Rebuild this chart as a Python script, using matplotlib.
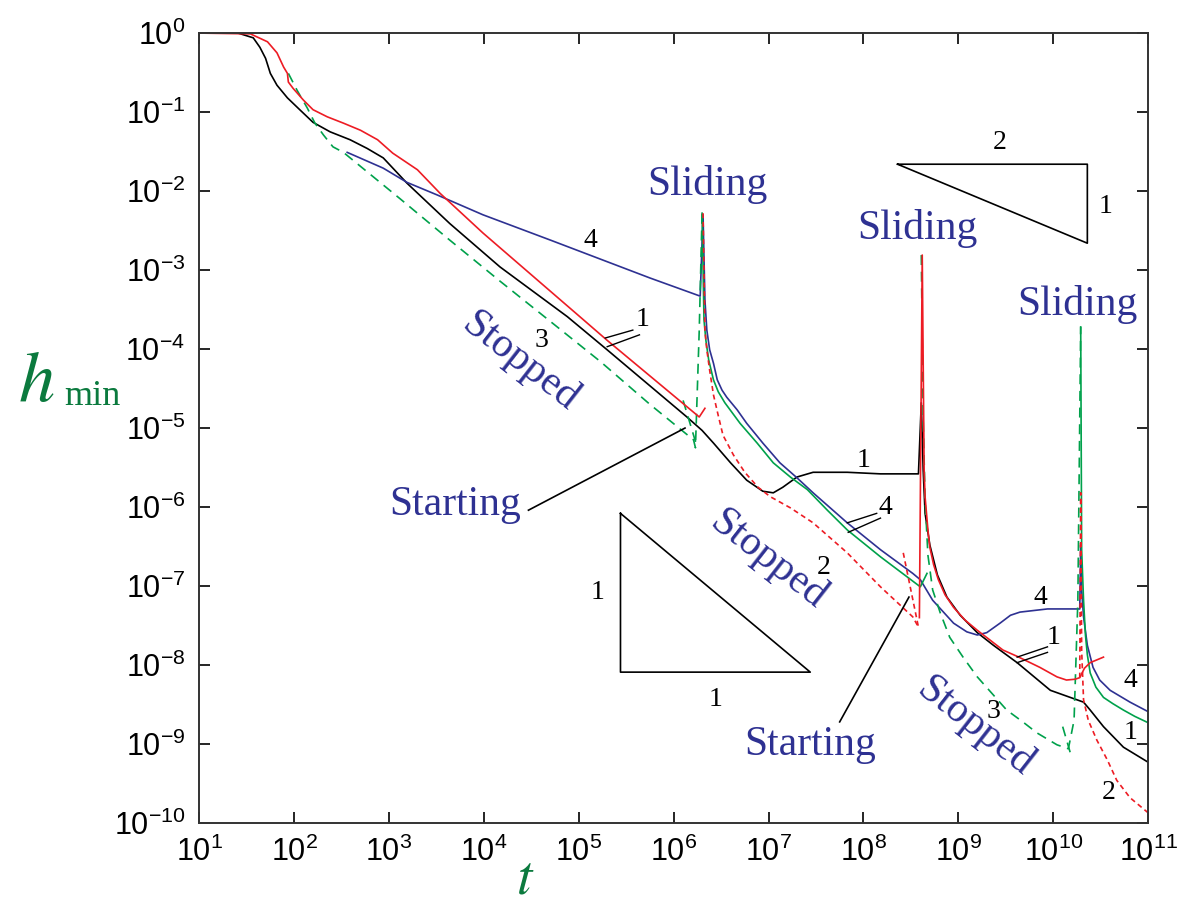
import numpy as np
import matplotlib.pyplot as plt

plt.rcParams['mathtext.fontset'] = 'stix'

# curve data, stored as log10(t), log10(h_min)
# curve 1 (black, solid throughout)
c1_lt = [1.0, 1.41, 1.57, 1.64, 1.70, 1.75, 1.82, 1.93, 2.06, 2.20, 2.38, 2.59, 2.77, 2.94,
         3.19, 3.64, 4.17, 4.88, 5.30, 6.14, 6.30, 6.42, 6.60, 6.77, 6.94, 7.05, 7.15, 7.30,
         7.47, 7.83, 8.18, 8.58, 8.61, 8.63, 8.65, 8.70, 8.78, 8.88, 9.02, 9.20, 9.37, 9.62,
         9.97, 10.25, 10.32, 10.39, 10.53, 10.74, 11.0]
c1_lh = [0.0, 0.0, -0.06, -0.18, -0.32, -0.51, -0.66, -0.82, -0.97, -1.13, -1.25, -1.35, -1.46, -1.58,
         -1.90, -2.41, -2.96, -3.59, -4.01, -4.86, -5.03, -5.19, -5.44, -5.66, -5.80, -5.82, -5.75, -5.62,
         -5.56, -5.56, -5.58, -5.58, -4.68, -5.53, -6.08, -6.48, -6.86, -7.14, -7.37, -7.59, -7.75, -7.97,
         -8.32, -8.44, -8.47, -8.57, -8.78, -9.04, -9.23]

# curve 4 (blue, solid)
c4_lt = [2.56, 2.94, 3.19, 3.51, 3.99, 4.70, 5.75, 6.28, 6.31, 6.33, 6.35, 6.38, 6.42, 6.46,
         6.51, 6.56, 6.67, 6.77, 6.94, 7.12, 7.30, 7.47, 7.65, 7.83, 8.18, 8.52, 8.60, 8.73,
         8.95, 9.09, 9.20, 9.30, 9.44, 9.55, 9.65, 9.94, 10.28, 10.29, 10.30, 10.32, 10.36,
         10.42, 10.49, 10.60, 10.81, 11.0]
c4_lh = [-1.51, -1.71, -1.89, -2.05, -2.30, -2.62, -3.10, -3.33, -2.30, -3.38, -3.76, -4.01, -4.18, -4.39,
         -4.52, -4.61, -4.77, -4.94, -5.19, -5.44, -5.63, -5.82, -6.01, -6.20, -6.54, -6.84, -6.92, -7.18,
         -7.47, -7.58, -7.62, -7.59, -7.47, -7.37, -7.33, -7.29, -7.29, -6.48, -7.05, -7.39, -7.75,
         -8.03, -8.19, -8.32, -8.47, -8.59]

# curve 2 (red): solid while sliding, dashed while stopped
c2a_lt = [1.0, 1.54, 1.72, 1.82, 1.89, 1.93, 1.94, 1.99, 2.10, 2.20, 2.35, 2.52, 2.70, 2.88,
          3.04, 3.30, 3.54, 3.99, 5.05, 5.30, 6.27, 6.33]
c2a_lh = [0.0, -0.01, -0.11, -0.25, -0.43, -0.51, -0.62, -0.70, -0.85, -0.97, -1.06, -1.14, -1.23, -1.35,
          -1.52, -1.73, -2.03, -2.53, -3.63, -3.89, -4.86, -4.75]
c2b_lt = [6.31, 6.33, 6.35, 6.38, 6.42, 6.47, 6.52, 6.63, 6.75, 6.89, 7.02, 7.23, 7.47, 7.83,
          8.18, 8.52, 8.58]
c2b_lh = [-2.28, -3.76, -4.01, -4.27, -4.58, -4.84, -5.09, -5.34, -5.56, -5.75, -5.87, -6.01, -6.20, -6.58,
          -7.01, -7.39, -7.52]
c2c_lt = [8.42, 8.58]
c2c_lh = [-6.58, -7.52]
c2d_lt = [8.59, 8.62, 8.64, 8.65, 8.68, 8.70, 8.74, 8.79, 8.86, 8.95, 9.07, 9.20, 9.33, 9.47,
          9.62, 9.86, 10.04, 10.14, 10.23, 10.28, 10.33, 10.39, 10.53]
c2d_lh = [-7.40, -2.81, -5.53, -5.87, -6.29, -6.51, -6.73, -6.92, -7.11, -7.27, -7.43, -7.56, -7.68, -7.81,
          -7.89, -8.03, -8.15, -8.19, -8.18, -8.16, -8.04, -7.97, -7.90]
c2e_lt = [10.28, 10.29, 10.30, 10.32, 10.37, 10.46, 10.57, 10.67, 10.81, 11.0]
c2e_lh = [-8.16, -5.82, -7.81, -8.44, -8.70, -8.95, -9.20, -9.46, -9.68, -9.87]

# curve 3 (green): dashed while stopped, solid while sliding
c3a_lt = [1.94, 2.03, 2.14, 2.22, 2.31, 2.41, 2.52, 3.12, 3.64, 4.17, 4.68, 5.23, 5.75, 6.21,
          6.23, 6.27, 6.30]
c3a_lh = [-0.51, -0.72, -0.95, -1.14, -1.29, -1.44, -1.51, -2.10, -2.62, -3.14, -3.63, -4.16, -4.70, -5.15,
          -5.25, -3.76, -2.28]
c3b_lt = [6.10, 6.25]
c3b_lh = [-4.65, -5.25]
c3c_lt = [6.30, 6.32, 6.34, 6.37, 6.42, 6.47, 6.54, 6.70, 6.88, 7.05, 7.23, 7.41, 7.62, 7.83,
          8.18, 8.60, 8.67]
c3c_lh = [-2.28, -3.63, -3.89, -4.14, -4.39, -4.54, -4.68, -4.94, -5.19, -5.44, -5.62, -5.78, -6.04, -6.29,
          -6.63, -7.01, -6.84]
c3d_lt = [8.61, 8.63, 8.65, 8.68, 8.73, 8.81, 8.91, 9.05, 9.20, 9.37, 9.51, 9.68, 9.83, 10.04,
          10.16, 10.22, 10.26, 10.29]
c3d_lh = [-2.81, -4.90, -5.91, -6.61, -7.05, -7.34, -7.65, -7.90, -8.15, -8.38, -8.57, -8.72, -8.86, -9.01,
          -9.06, -8.70, -7.18, -3.72]
c3e_lt = [10.10, 10.18]
c3e_lh = [-8.78, -9.11]
c3f_lt = [10.29, 10.30, 10.32, 10.34, 10.36, 10.39, 10.45, 10.53, 10.63, 10.74, 10.86, 11.0]
c3f_lh = [-3.72, -6.54, -7.18, -7.62, -7.87, -8.10, -8.28, -8.41, -8.49, -8.57, -8.65, -8.73]

# slope triangles (log10 coordinates)
tri1_lt = [5.44, 5.44, 7.44, 5.44]
tri1_lh = [-6.08, -8.09, -8.09, -6.08]
tri2_lt = [8.36, 10.36, 10.36, 8.36]
tri2_lh = [-1.66, -1.66, -2.66, -1.66]

ticks_x = [10.0 ** k for k in range(1, 12)]
ticks_y = [10.0 ** -k for k in range(0, 11)]

BLUE = '#2e3192'
RED = '#ed1c24'
GREEN = '#00a14b'
DKGREEN = '#0b7a3e'


def p(ax, lt, lh, **kw):
    ax.plot(10.0 ** np.array(lt), 10.0 ** np.array(lh), **kw)


fig = plt.figure(figsize=(11.82, 9.09), dpi=100)
ax = fig.add_axes([0.1685, 0.0946, 0.8028, 0.869])

lw = 1.2
gdash = (6, 4)
rdash = (3, 2.2)
p(ax, c1_lt, c1_lh, color='black', lw=lw)
p(ax, c4_lt, c4_lh, color=BLUE, lw=lw)
p(ax, c3a_lt, c3a_lh, color=GREEN, lw=lw, dashes=gdash)
p(ax, c3b_lt, c3b_lh, color=GREEN, lw=lw, dashes=gdash)
p(ax, c3c_lt, c3c_lh, color=GREEN, lw=lw)
p(ax, c3d_lt, c3d_lh, color=GREEN, lw=lw, dashes=gdash)
p(ax, c3e_lt, c3e_lh, color=GREEN, lw=lw, dashes=gdash)
p(ax, c3f_lt, c3f_lh, color=GREEN, lw=lw)
p(ax, c2a_lt, c2a_lh, color=RED, lw=lw)
p(ax, c2b_lt, c2b_lh, color=RED, lw=lw, dashes=rdash)
p(ax, c2c_lt, c2c_lh, color=RED, lw=lw, dashes=rdash)
p(ax, c2d_lt, c2d_lh, color=RED, lw=lw)
p(ax, c2e_lt, c2e_lh, color=RED, lw=lw, dashes=rdash)

p(ax, tri1_lt, tri1_lh, color='black', lw=1.2)
p(ax, tri2_lt, tri2_lh, color='black', lw=1.2)

# leader lines
p(ax, [4.47, 6.12], [-6.04, -5.00], color='black', lw=1.2)
p(ax, [7.75, 8.48], [-8.72, -7.14], color='black', lw=1.2)
for seg in [([5.28, 5.57], [-3.86, -3.76]), ([5.30, 5.64], [-3.97, -3.82]),
            ([7.83, 8.14], [-6.20, -6.08]), ([7.84, 8.18], [-6.32, -6.14]),
            ([9.62, 9.94], [-7.90, -7.77]), ([9.62, 9.94], [-7.97, -7.84])]:
    p(ax, seg[0], seg[1], color='black', lw=1.0)

serif = 'Liberation Serif'
big = dict(color=BLUE, fontsize=30, family=serif, ha='center', va='center')
for lt, lh in [(6.36, -1.92), (8.57, -2.47), (10.25, -3.43)]:
    ax.text(10 ** lt, 10 ** lh, 'Sliding', **big)
for lt, lh in [(4.38, -4.16), (6.99, -6.67), (9.18, -8.78)]:
    ax.text(10 ** lt, 10 ** lh, 'Stopped', rotation=-38, rotation_mode='anchor', **big)
for lt, lh in [(3.70, -5.97), (7.44, -9.01)]:
    ax.text(10 ** lt, 10 ** lh, 'Starting', **big)

num_labels = [('4', 5.12, -2.62), ('1', 5.67, -3.63), ('3', 4.61, -3.89), ('1', 8.00, -5.41),
              ('4', 8.23, -6.00), ('2', 7.58, -6.77), ('4', 9.86, -7.15), ('1', 10.00, -7.65),
              ('3', 9.37, -8.59), ('4', 10.81, -8.19), ('1', 10.81, -8.86), ('2', 10.58, -9.62),
              ('1', 5.20, -7.08), ('1', 6.44, -8.44), ('2', 9.44, -1.39), ('1', 10.55, -2.20)]
for s, lt, lh in num_labels:
    ax.text(10 ** lt, 10 ** lh, s, fontsize=20, family=serif, ha='center', va='center')

ax.set_xscale('log')
ax.set_yscale('log')
ax.set_xlim(1e1, 1e11)
ax.set_ylim(1e-10, 1e0)
ax.set_xticks(ticks_x)
ax.set_yticks(ticks_y)
ax.set_xticklabels([r'$\mathregular{10^{%d}}$' % k for k in range(1, 12)])
ax.set_yticklabels([r'$\mathregular{10^{%d}}$' % -k if k else r'$\mathregular{10^{0}}$' for k in range(0, 11)])
ax.minorticks_off()
ax.tick_params(which='major', direction='in', length=8, width=1.2, top=True, right=True,
               labelsize=22, pad=10)
for lab in ax.get_xticklabels() + ax.get_yticklabels():
    lab.set_family('Liberation Sans')
for sp in ax.spines.values():
    sp.set_linewidth(1.4)
    sp.set_color('#333333')

# axis labels
fig.text(18 / 1182, 1 - 401 / 909, r'$h$', color=DKGREEN, fontsize=52, ha='left', va='baseline')
fig.text(64 / 1182, 1 - 405 / 909, 'min', color=DKGREEN, fontsize=26, family=serif,
         ha='left', va='baseline')
fig.text(0.444, 0.034, r'$t$', color=DKGREEN, fontsize=40, ha='center', va='center')

fig.savefig('out.png', dpi=100)
